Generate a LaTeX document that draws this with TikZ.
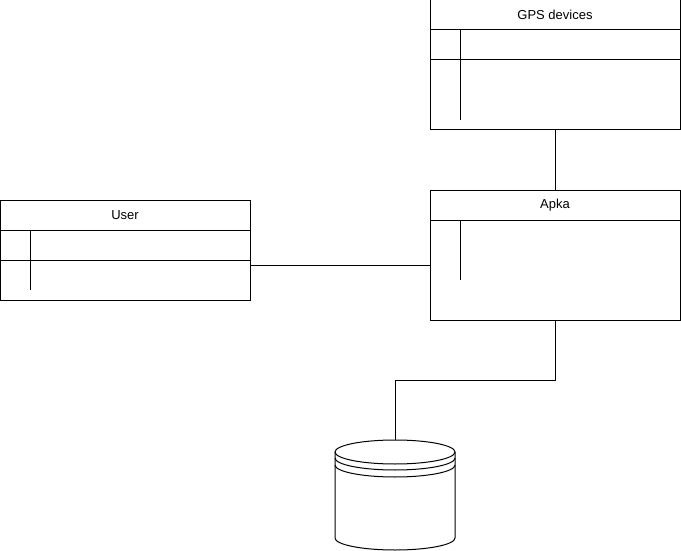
\documentclass[tikz,border=0pt]{standalone}
\usepackage{fontspec}
\setmainfont{Liberation Sans}
\usepackage{tikz}
\usetikzlibrary{positioning}
\tikzset{headbox/.style={rectangle, draw=black, minimum width=250pt, minimum height=30pt, inner sep=0pt, outer sep=0pt, font=\fontsize{13}{15}\selectfont}}
\tikzset{rowbox/.style={rectangle, draw=black, minimum width=250pt, inner sep=0pt, outer sep=0pt}}

\begin{document}
\begin{tikzpicture}[x=1pt,y=-1pt,line width=1pt]
    \useasboundingbox (0,0) rectangle (681,551);

    % GPS devices
    \node[headbox,anchor=north west] (gpsh) at (430,0) {GPS devices};
    \node[rowbox,minimum height=30pt,below=0pt of gpsh] (gpsr) {};
    \node[rowbox,minimum height=70pt,below=0pt of gpsr] (gpsb) {};
    \draw ([xshift=30pt]gpsr.north west) -- ++(0,90);

    % Apka
    \node[headbox,anchor=north west] (apkah) at (430,190) {Apka};
    \node[rowbox,minimum height=100pt,below=0pt of apkah] (apkab) {};
    \draw ([xshift=30pt]apkab.north west) -- ++(0,60);

    % User
    \node[headbox,anchor=north west] (userh) at (0,200) {User};
    \node[rowbox,minimum height=30pt,below=0pt of userh] (userr) {};
    \node[rowbox,minimum height=40pt,below=0pt of userr] (userb) {};
    \draw ([xshift=30pt]userr.north west) -- ++(0,60);

    % database
    \coordinate (dbtop) at (395,440);
    \draw (395,452) ellipse[x radius=60,y radius=12];
    \draw (335,458) arc[start angle=180,end angle=0,x radius=60,y radius=12];
    \draw (335,465) arc[start angle=180,end angle=0,x radius=60,y radius=12];
    \draw (335,452) -- (335,538) arc[start angle=180,end angle=0,x radius=60,y radius=12] -- (455,452);

    \coordinate (uj) at ([yshift=-5pt]userb.north east);
    \draw (gpsb.south) -- (apkah.north);
    \draw (uj) -- (uj -| apkab.west);
    \draw (apkab.south) -- ++(0,60) -| (dbtop);

\end{tikzpicture}
\end{document}
